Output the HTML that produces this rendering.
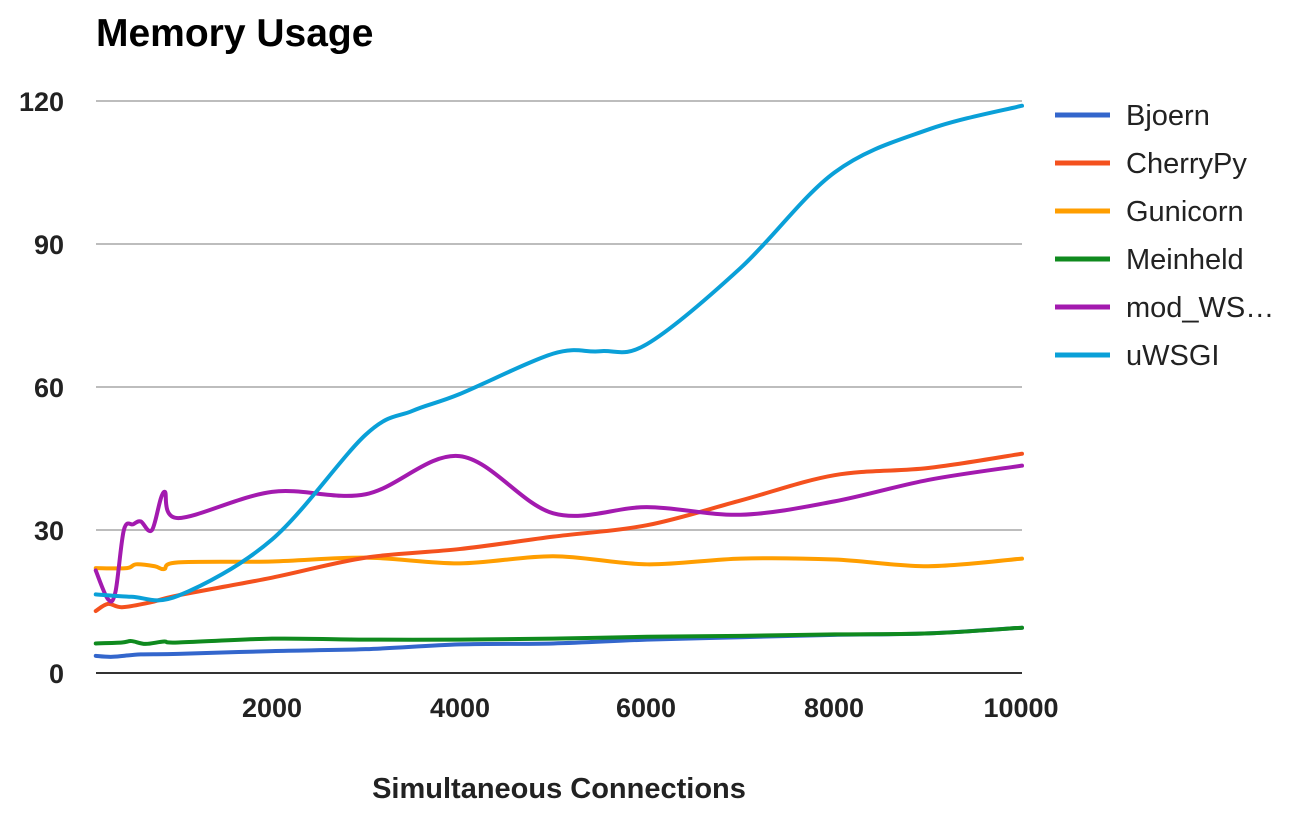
<!DOCTYPE html>
<html><head><meta charset="utf-8"><style>
html,body{margin:0;padding:0;background:#fff;}
svg{display:block;font-family:"Liberation Sans",Arial,sans-serif;}
</style></head><body>
<svg id="c" width="1316" height="824" xmlns="http://www.w3.org/2000/svg">
<text x="96" y="46" font-size="39" font-weight="bold" fill="#000">Memory Usage</text>
<g stroke="#bdbdbd" stroke-width="2">
<line x1="96" y1="101" x2="1022" y2="101"/><line x1="96" y1="244" x2="1022" y2="244"/>
<line x1="96" y1="387" x2="1022" y2="387"/><line x1="96" y1="530" x2="1022" y2="530"/>
</g>
<line x1="96" y1="673" x2="1022" y2="673" stroke="#333" stroke-width="2"/>
<g font-size="27" font-weight="bold" fill="#222" text-anchor="end">
<text x="64" y="111">120</text><text x="64" y="254">90</text><text x="64" y="397">60</text>
<text x="64" y="540">30</text><text x="64" y="683">0</text></g>
<g font-size="27" font-weight="bold" fill="#222" text-anchor="middle">
<text x="272" y="717">2000</text><text x="460" y="717">4000</text><text x="646" y="717">6000</text>
<text x="834" y="717">8000</text><text x="1021" y="717">10000</text></g>
<text x="559" y="798" font-size="29" font-weight="bold" fill="#222" text-anchor="middle">Simultaneous Connections</text>
<g id="series" fill="none" stroke-width="4" stroke-linejoin="round" stroke-linecap="round"></g>
<g stroke-width="5">
<line x1="1055" y1="115" x2="1110" y2="115" stroke="#3366cc"/>
<line x1="1055" y1="163" x2="1110" y2="163" stroke="#f4511e"/>
<line x1="1055" y1="211" x2="1110" y2="211" stroke="#ff9e00"/>
<line x1="1055" y1="259" x2="1110" y2="259" stroke="#0f8a1e"/>
<line x1="1055" y1="307" x2="1110" y2="307" stroke="#a31aaf"/>
<line x1="1055" y1="355" x2="1110" y2="355" stroke="#0aa0d8"/>
</g>
<g font-size="29" fill="#222">
<text x="1126" y="125">Bjoern</text><text x="1126" y="173">CherryPy</text>
<text x="1126" y="221">Gunicorn</text><text x="1126" y="269">Meinheld</text>
<text x="1126" y="317">mod_WS…</text><text x="1126" y="365">uWSGI</text></g>
</svg>
<script>
function X(v){return 84.5+v*0.09375;}function Y(v){return 673-v*4.767;}
function path(pts){var p=pts.map(function(a){return [X(a[0]),Y(a[1])];});
var d="M"+p[0][0]+","+p[0][1];
for(var i=0;i<p.length-1;i++){var p0=p[i-1]||p[i],p1=p[i],p2=p[i+1],p3=p[i+2]||p2;
d+=" C"+(p1[0]+(p2[0]-p0[0])/6)+","+(p1[1]+(p2[1]-p0[1])/6)+" "+(p2[0]-(p3[0]-p1[0])/6)+","+(p2[1]-(p3[1]-p1[1])/6)+" "+p2[0]+","+p2[1];}
return d;}
var S=[
["#3366cc",[[120,3.6],[300,3.4],[600,3.9],[1000,4],[2000,4.6],[3000,5],[4000,6],[5000,6.2],[6000,7],[7000,7.5],[8000,8],[9000,8.3],[10000,9.5]]],
["#0f8a1e",[[120,6.2],[400,6.4],[500,6.7],[650,6.1],[850,6.6],[1000,6.4],[2000,7.2],[3000,7],[4000,7],[5000,7.2],[6000,7.6],[7000,7.8],[8000,8.1],[9000,8.3],[10000,9.5]]],
["#ff9e00",[[120,22],[450,22],[550,22.8],[750,22.4],[850,21.8],[1000,23.2],[2000,23.4],[3000,24.2],[4000,23],[5000,24.5],[6000,22.8],[7000,24],[8000,23.8],[9000,22.4],[10000,24]]],
["#f4511e",[[120,13],[250,14.5],[400,13.8],[700,14.8],[1000,16.3],[2000,20],[3000,24.2],[4000,26],[5000,28.6],[6000,31],[7000,36.2],[8000,41.5],[9000,43],[10000,46]]],
["#a31aaf",[[120,21.5],[250,15.5],[330,17],[420,30],[520,31.2],[600,31.8],[720,30],[850,38],[1000,32.5],[2000,38],[3000,37.5],[4000,45.5],[5000,33.5],[6000,34.8],[7000,33.2],[8000,36],[9000,40.5],[10000,43.5]]],
["#0aa0d8",[[120,16.5],[500,16],[1000,16.2],[2000,28],[3000,50],[3500,55],[4000,58.5],[5000,67],[5500,67.5],[6000,69],[7000,85],[8000,105],[9000,114],[10000,119]]]];
var g=document.getElementById("series"),h="";
S.forEach(function(s){h+='<path stroke="'+s[0]+'" d="'+path(s[1])+'"/>';});
g.innerHTML=h;
</script>
</body></html>
